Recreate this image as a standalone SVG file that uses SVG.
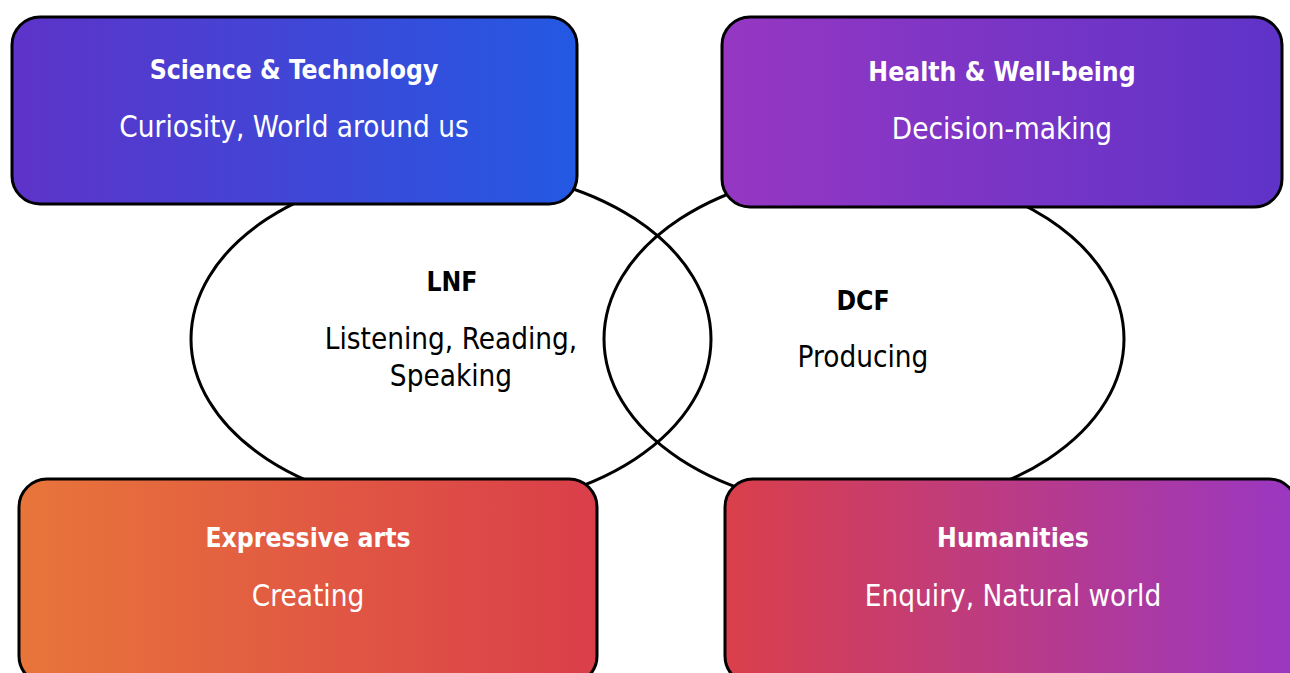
<svg xmlns="http://www.w3.org/2000/svg" width="1290" height="673" viewBox="0 0 1290 673">
  <defs>
    <linearGradient id="gSci" x1="0" y1="0" x2="1" y2="0">
      <stop offset="0" stop-color="#5E33C9"/>
      <stop offset="1" stop-color="#2359E3"/>
    </linearGradient>
    <linearGradient id="gHealth" x1="0" y1="0" x2="1" y2="0">
      <stop offset="0" stop-color="#9637C3"/>
      <stop offset="1" stop-color="#5E33C8"/>
    </linearGradient>
    <linearGradient id="gArts" x1="0" y1="0" x2="1" y2="0">
      <stop offset="0" stop-color="#E8753A"/>
      <stop offset="1" stop-color="#DA3E4A"/>
    </linearGradient>
    <linearGradient id="gHum" x1="0" y1="0" x2="1" y2="0">
      <stop offset="0" stop-color="#DA3F4A"/>
      <stop offset="1" stop-color="#9A37C2"/>
    </linearGradient>
  </defs>
  <style>
    .ring { fill: #ffffff; fill-opacity: 0; stroke: #000000; stroke-width: 3; }
    .box { stroke: #000000; stroke-width: 3; }
    text { font-family: "DejaVu Sans Condensed", "DejaVu Sans", sans-serif; font-size: 29.4px; text-anchor: middle; }
    .title { font-weight: bold; font-size: 26.3px; fill: #ffffff; }
    .sub { fill: #ffffff; }
    .dark { fill: #000000; }
    .dark.title { fill: #000000; }
  </style>

  <!-- overlapping ellipses -->
  <g id="connectors">
    <ellipse class="ring" cx="451" cy="339" rx="260" ry="170"/>
    <ellipse class="ring" cx="864" cy="339" rx="260" ry="170"/>
  </g>

  <g id="lnf">
    <text class="dark title" x="452" y="291">LNF</text>
    <text class="dark" x="451" y="349">Listening, Reading,</text>
    <text class="dark" x="451" y="386">Speaking</text>
  </g>

  <g id="dcf">
    <text class="dark title" x="863" y="310">DCF</text>
    <text class="dark" x="863" y="367">Producing</text>
  </g>

  <g id="science">
    <rect class="box" x="12" y="17" width="565" height="187" rx="28" fill="url(#gSci)"/>
    <text class="title" x="294" y="79">Science &amp; Technology</text>
    <text class="sub" x="294" y="137">Curiosity, World around us</text>
  </g>

  <g id="health">
    <rect class="box" x="722" y="17" width="560" height="190" rx="28" fill="url(#gHealth)"/>
    <text class="title" x="1002" y="81">Health &amp; Well-being</text>
    <text class="sub" x="1002" y="139">Decision-making</text>
  </g>

  <g id="arts">
    <rect class="box" x="19" y="479" width="578" height="205" rx="28" fill="url(#gArts)"/>
    <text class="title" x="308" y="547">Expressive arts</text>
    <text class="sub" x="308" y="606">Creating</text>
  </g>

  <g id="humanities">
    <rect class="box" x="725" y="479" width="572" height="205" rx="28" fill="url(#gHum)"/>
    <text class="title" x="1013" y="547">Humanities</text>
    <text class="sub" x="1013" y="606">Enquiry, Natural world</text>
  </g>
</svg>
